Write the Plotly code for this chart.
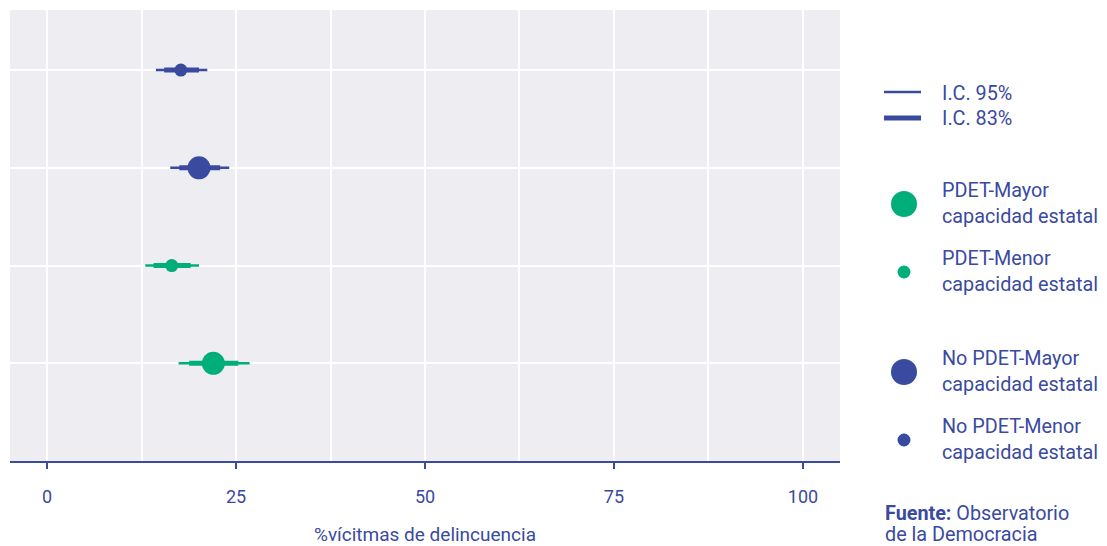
import plotly.graph_objects as go

# Data
groups = ["No PDET-Menor capacidad estatal", "No PDET-Mayor capacidad estatal",
          "PDET-Menor capacidad estatal", "PDET-Mayor capacidad estatal"]
ypos = [4, 3, 2, 1]
estimate = [17.7, 20.1, 16.5, 22.0]
ci95_lo = [14.4, 16.3, 13.0, 17.4]
ci95_hi = [21.2, 24.1, 20.1, 26.8]
ci83_lo = [15.5, 17.5, 14.1, 18.8]
ci83_hi = [20.1, 22.9, 19.0, 25.3]
is_pdet = [False, False, True, True]
is_mayor = [False, True, False, True]
xticks = [0, 25, 50, 75, 100]

NAVY = "#3A4A9F"
GREEN = "#00AE7A"
BG = "#EDEDF2"
FONT = "Roboto"

fig = go.Figure()

for i in range(len(groups)):
    col = GREEN if is_pdet[i] else NAVY
    size = 23 if is_mayor[i] else 13
    fig.add_trace(go.Scatter(x=[ci95_lo[i], ci95_hi[i]], y=[ypos[i], ypos[i]], mode="lines",
                             line=dict(color=col, width=2.5), showlegend=False, hoverinfo="skip"))
    fig.add_trace(go.Scatter(x=[ci83_lo[i], ci83_hi[i]], y=[ypos[i], ypos[i]], mode="lines",
                             line=dict(color=col, width=5), showlegend=False, hoverinfo="skip"))
    fig.add_trace(go.Scatter(x=[estimate[i]], y=[ypos[i]], mode="markers",
                             marker=dict(color=col, size=size, line=dict(width=0)),
                             name=groups[i], showlegend=False))

# Layout geometry (page body has an 8px margin, so shift everything by -8)
OFF = 8
W, H = 1107 - OFF, 546 - OFF
L, T = 10 - OFF, 10 - OFF
R = W - (840 - OFF)
B = H - (461 - OFF)
pw, ph = W - L - R, H - T - B

def px(X):
    return (X - OFF - L) / pw

def py(Y):
    return (H - B - (Y - OFF)) / ph

shapes = []
annotations = []
tf = dict(family=FONT, size=19.8, color=NAVY)

shapes.append(dict(type="line", xref="paper", yref="paper", x0=px(884), x1=px(921),
                   y0=py(92), y1=py(92), line=dict(color=NAVY, width=2.5)))
shapes.append(dict(type="line", xref="paper", yref="paper", x0=px(884), x1=px(921),
                   y0=py(118), y1=py(118), line=dict(color=NAVY, width=5)))
annotations.append(dict(xref="paper", yref="paper", x=px(940), y=py(93), text="I.C. 95%",
                        showarrow=False, xanchor="left", yanchor="middle", font=tf))
annotations.append(dict(xref="paper", yref="paper", x=px(940), y=py(118), text="I.C. 83%",
                        showarrow=False, xanchor="left", yanchor="middle", font=tf))

legend_items = [
    ("PDET-Mayor<br>capacidad estatal", GREEN, 13, 204),
    ("PDET-Menor<br>capacidad estatal", GREEN, 6.5, 272),
    ("No PDET-Mayor<br>capacidad estatal", NAVY, 13, 372),
    ("No PDET-Menor<br>capacidad estatal", NAVY, 6.5, 440),
]
for text, col, r, yc in legend_items:
    shapes.append(dict(type="circle", xref="paper", yref="paper", xsizemode="pixel", ysizemode="pixel",
                       xanchor=px(904), yanchor=py(yc), x0=-r, x1=r, y0=-r, y1=r,
                       fillcolor=col, line=dict(width=0)))
    annotations.append(dict(xref="paper", yref="paper", x=px(940), y=py(yc - 1), text=text,
                            showarrow=False, xanchor="left", yanchor="middle", align="left",
                            font=tf))

annotations.append(dict(xref="paper", yref="paper", x=px(883), y=py(513),
                        text="<b>Fuente:</b> Observatorio",
                        showarrow=False, xanchor="left", yanchor="middle", align="left",
                        font=tf))
annotations.append(dict(xref="paper", yref="paper", x=px(883), y=py(534),
                        text="de la Democracia",
                        showarrow=False, xanchor="left", yanchor="middle", align="left",
                        font=tf))

fig.update_layout(
    width=W, height=H,
    margin=dict(l=L, r=R, t=T, b=B),
    paper_bgcolor="white",
    plot_bgcolor=BG,
    font=dict(family=FONT, color=NAVY),
    shapes=shapes,
    annotations=annotations,
    xaxis=dict(
        range=[-4.9, 104.9],
        tickvals=xticks,
        ticks="outside", ticklen=6, tickwidth=2, tickcolor=NAVY,
        ticklabelstandoff=12,
        tickfont=dict(family=FONT, size=18, color=NAVY),
        showgrid=True, gridcolor="white", gridwidth=2,
        minor=dict(dtick=12.5, tick0=0, showgrid=True, gridcolor="white", gridwidth=2, ticks=""),
        showline=True, linecolor=NAVY, linewidth=2,
        zeroline=False,
        title=dict(text="%vícitmas de delincuencia", font=dict(family=FONT, size=19, color=NAVY),
                   standoff=24),
    ),
    yaxis=dict(
        range=[0, 4.615],
        tickvals=ypos, showticklabels=False, ticks="",
        showgrid=True, gridcolor="white", gridwidth=2,
        zeroline=False, showline=False,
    ),
)

fig.write_html("out.html")
